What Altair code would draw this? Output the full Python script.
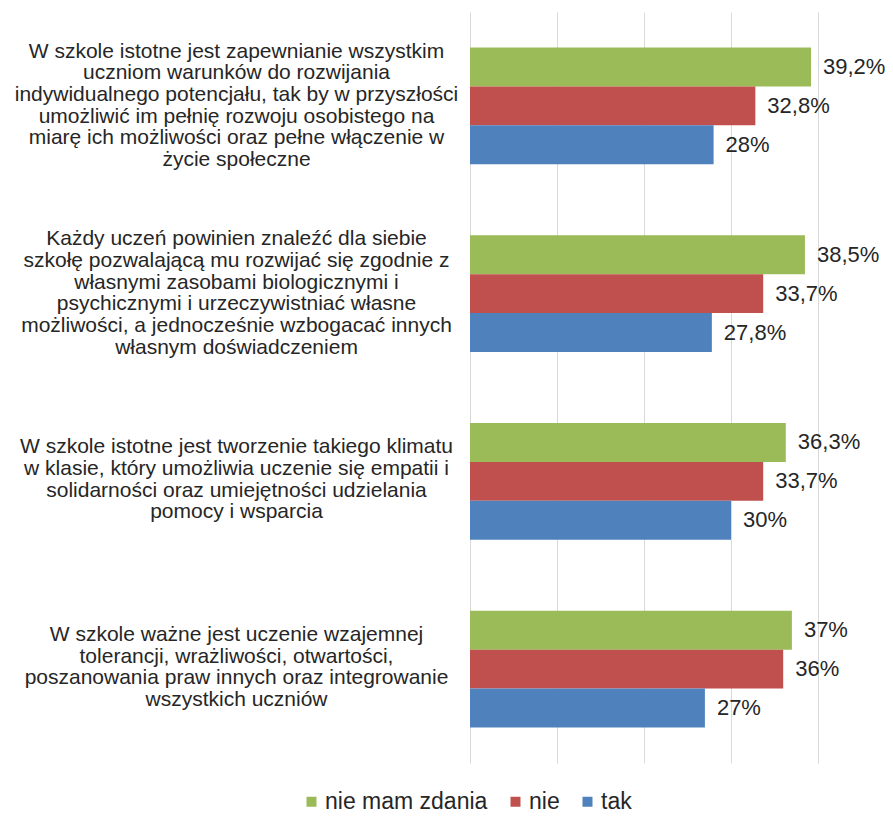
import altair as alt
import pandas as pd

categories = [
    "W szkole istotne jest zapewnianie wszystkim|uczniom warunków do rozwijania|indywidualnego potencjału, tak by w przyszłości|umożliwić im pełnię rozwoju osobistego na|miarę ich możliwości oraz pełne włączenie w|życie społeczne",
    "Każdy uczeń powinien znaleźć dla siebie|szkołę pozwalającą mu rozwijać się zgodnie z|własnymi zasobami biologicznymi i|psychicznymi i urzeczywistniać własne|możliwości, a jednocześnie wzbogacać innych|własnym doświadczeniem",
    "W szkole istotne jest tworzenie takiego klimatu|w klasie, który umożliwia uczenie się empatii i|solidarności oraz umiejętności udzielania|pomocy i wsparcia",
    "W szkole ważne jest uczenie wzajemnej|tolerancji, wrażliwości, otwartości,|poszanowania praw innych oraz integrowanie|wszystkich uczniów",
]
series = ["nie mam zdania", "nie", "tak"]
nie_mam_zdania = [39.2, 38.5, 36.3, 37]
nie = [32.8, 33.7, 33.7, 36]
tak = [28, 27.8, 30, 27]
colors = ["#9BBB59", "#C0504D", "#4F81BD"]
grid_values = [0, 10, 20, 30, 40]

rows = []
for i, c in enumerate(categories):
    for s, vals in zip(series, [nie_mam_zdania, nie, tak]):
        rows.append({"kategoria": c, "odpowiedz": s, "procent": vals[i]})
df = pd.DataFrame(rows)

FONT = "Liberation Sans"
TXT = "#262626"
LINE_H = 21.7

base = alt.Chart(df).encode(
    y=alt.Y(
        "kategoria:N",
        sort=categories,
        scale=alt.Scale(paddingInner=0.377, paddingOuter=0.1885),
        axis=alt.Axis(
            title=None,
            labelExpr="split(datum.label, '|')",
            labelAlign="center",
            labelBaseline="middle",
            labelPadding=234,
            labelOffset={
                "condition": {
                    "test": "length(split(datum.label, '|')) == 6",
                    "value": -2.5 * LINE_H,
                },
                "value": -1.5 * LINE_H - 1.5,
            },
            labelFontSize=21,
            labelLineHeight=LINE_H,
            labelColor=TXT,
            labelFont=FONT,
            labelLimit=0,
            ticks=False,
            tickSize=0,
            domain=False,
            grid=False,
        ),
    ),
    yOffset=alt.YOffset("odpowiedz:N", sort=series, scale=alt.Scale(paddingInner=0, paddingOuter=0)),
)

bars = base.mark_bar().encode(
    x=alt.X(
        "procent:Q",
        scale=alt.Scale(domain=[0, 40], nice=False),
        axis=alt.Axis(
            title=None,
            values=grid_values,
            labels=False,
            ticks=False,
            domain=False,
            grid=True,
            gridColor="#D9D9D9",
            gridWidth=1,
        ),
    ),
    color=alt.Color(
        "odpowiedz:N",
        sort=series,
        scale=alt.Scale(domain=series, range=colors),
        legend=alt.Legend(
            title=None,
            orient="none",
            legendX=-170,
            legendY=778,
            direction="horizontal",
            symbolType="square",
            symbolSize=100,
            symbolStrokeWidth=0,
            labelFontSize=23,
            labelFont=FONT,
            labelColor=TXT,
            labelLimit=0,
            columnPadding=16,
            labelOffset=2,
            padding=0,
        ),
    ),
)

text = base.mark_text(
    align="left", baseline="middle", dx=12, fontSize=22, font=FONT, color=TXT
).transform_calculate(
    etykieta="replace(format(datum.procent, '.1~f'), '.', ',') + '%'"
).encode(
    x=alt.X("procent:Q"),
    text=alt.Text("etykieta:N"),
)

chart = (
    alt.layer(bars, text)
    .properties(
        width=348,
        height=751,
        autosize=alt.AutoSizeParams(type="none"),
        padding={"left": 462, "top": 4, "right": 67, "bottom": 50},
        background="white",
    )
    .configure_view(stroke=None)
)

chart.save("out.html", embed_options={"renderer": "svg", "actions": False})
